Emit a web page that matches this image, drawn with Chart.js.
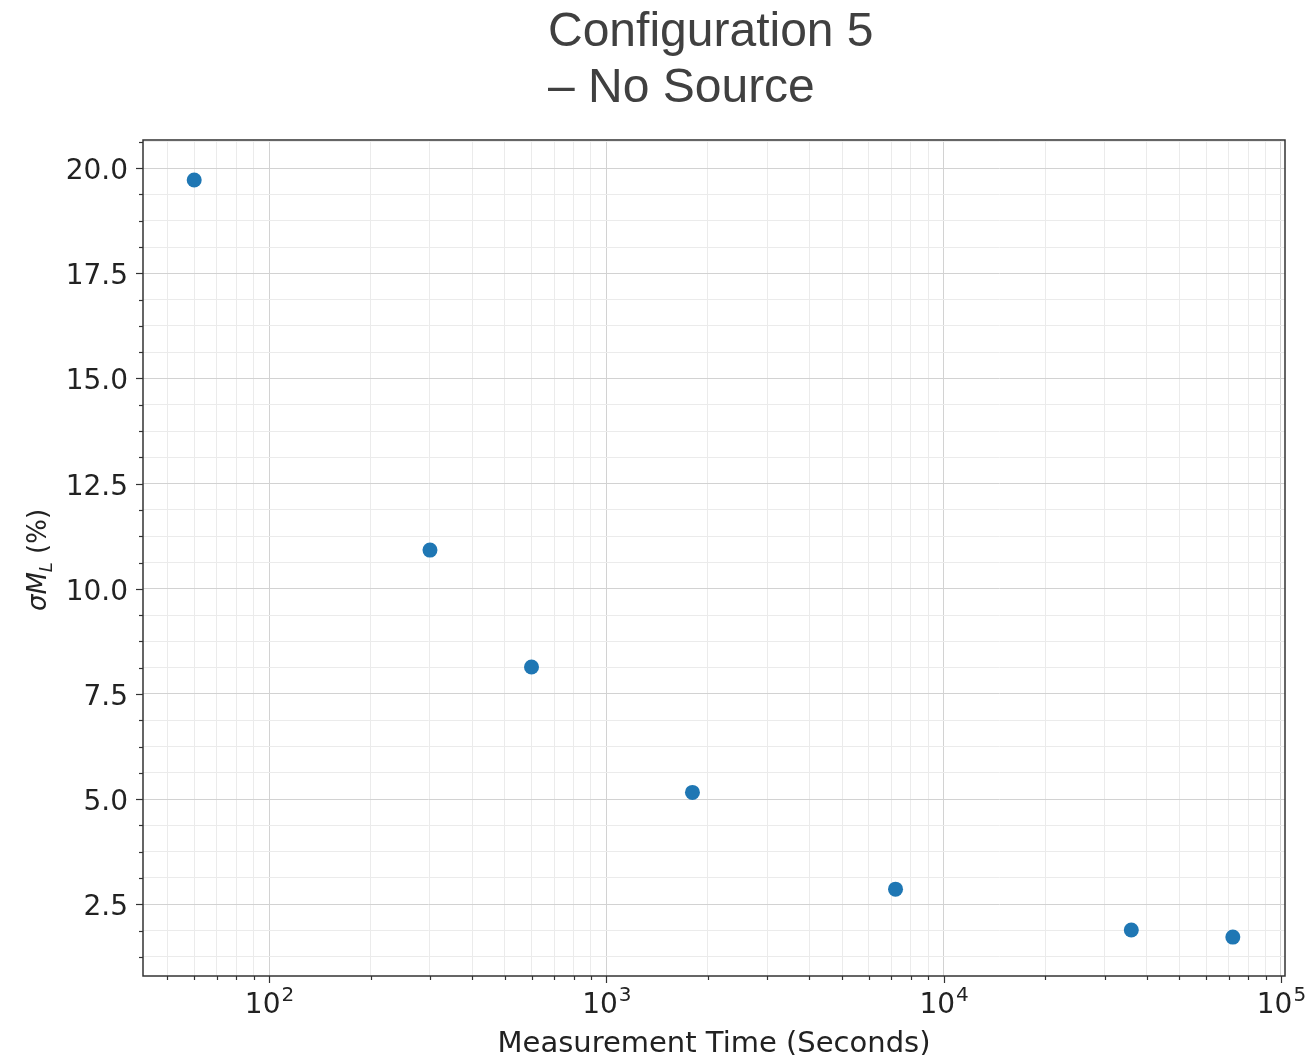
<!DOCTYPE html>
<html>
<head>
<meta charset="utf-8">
<script src="https://cdn.jsdelivr.net/npm/chart.js@4.4.1/dist/chart.umd.min.js"></script>
<style>
  html, body { margin: 0; padding: 0; background: #fff; }
  #wrap { width: 1311px; height: 1055px; }
</style>
</head>
<body>
<div id="wrap"><canvas id="myChart" width="1311" height="1055"></canvas></div>
<script>
// measurement time (s) and sigma M_L (%)
var times = [60, 300, 600, 1800, 7200, 36000, 72000];
var sigma = [19.72, 10.92, 8.14, 5.16, 2.86, 1.89, 1.72];

var titleLines = ['Configuration 5', '\u2013 No Source'];
var xTitle = 'Measurement Time (Seconds)';
var xMajorTicks = [100, 1000, 10000, 100000];
var xTickExponents = ['2', '3', '4', '5'];
var yMajorTicks = [2.5, 5.0, 7.5, 10.0, 12.5, 15.0, 17.5, 20.0];
var yTickLabels = ['2.5', '5.0', '7.5', '10.0', '12.5', '15.0', '17.5', '20.0'];

var xMin = 42.3, xMax = 102800;
var yMin = 0.795, yMax = 20.67;

// minor ticks: 2..9 per decade on x, quarters on y
var xTicks = [];
[10, 100, 1000, 10000].forEach(function (d) {
    for (var k = 1; k <= 9; k++) xTicks.push({ value: d * k, major: k === 1 });
});
xTicks.push({ value: 100000, major: true });
xTicks = xTicks.filter(function (t) { return t.value >= xMin && t.value <= xMax; });

var yTicks = [];
for (var i = 0; i <= 33; i++) {
    var v = i * 0.625;
    if (v >= yMin && v <= yMax) yTicks.push({ value: v, major: i % 4 === 0 });
}

var MAJOR_GRID = '#d2d2d2';
var MINOR_GRID = '#ebebeb';
var TEXT = '#222';

var framePlugin = {
    id: 'frame',
    afterDraw: function (chart) {
        var c = chart.ctx, a = chart.chartArea;
        var xs = chart.scales.x, ys = chart.scales.y;
        c.save();
        // tick marks
        c.strokeStyle = '#333';
        c.lineWidth = 1.2;
        xs.ticks.forEach(function (t) {
            var px = Math.round(xs.getPixelForValue(t.value)) + 0.5;
            var len = t.major ? 7 : 4;
            c.beginPath(); c.moveTo(px, a.bottom); c.lineTo(px, a.bottom + len); c.stroke();
        });
        ys.ticks.forEach(function (t) {
            var py = Math.round(ys.getPixelForValue(t.value)) + 0.5;
            var len = t.major ? 7 : 4;
            c.beginPath(); c.moveTo(a.left, py); c.lineTo(a.left - len, py); c.stroke();
        });
        // spines
        c.lineWidth = 1.5;
        c.strokeRect(a.left, a.top, a.right - a.left, a.bottom - a.top);

        c.fillStyle = TEXT;
        c.textBaseline = 'alphabetic';

        // y tick labels
        c.font = '28px "DejaVu Sans", sans-serif';
        c.textAlign = 'right';
        yMajorTicks.forEach(function (val, k) {
            c.fillText(yTickLabels[k], a.left - 15, ys.getPixelForValue(val) + 11);
        });

        // x tick labels 10^n
        c.textAlign = 'left';
        xMajorTicks.forEach(function (val, k) {
            var px = xs.getPixelForValue(val);
            c.font = '28px "DejaVu Sans", sans-serif';
            var wb = c.measureText('10').width;
            c.font = '20px "DejaVu Sans", sans-serif';
            var we = c.measureText(xTickExponents[k]).width;
            var x0 = px - (wb + we) / 2;
            c.font = '28px "DejaVu Sans", sans-serif';
            c.fillText('10', x0, a.bottom + 37);
            c.font = '20px "DejaVu Sans", sans-serif';
            c.fillText(xTickExponents[k], x0 + wb + 1, a.bottom + 25);
        });

        // x axis title
        c.font = '29px "DejaVu Sans", sans-serif';
        c.textAlign = 'center';
        c.fillText(xTitle, (a.left + a.right) / 2, a.bottom + 76);

        // title
        c.fillStyle = '#404040';
        c.font = '48px "Liberation Sans", Arial, sans-serif';
        c.textAlign = 'left';
        c.fillText(titleLines[0], 548, 46);
        c.fillText(titleLines[1], 548, 102);

        // y axis label: sigma M_L (%)
        c.translate(46, (a.top + a.bottom) / 2 + 2);
        c.rotate(-Math.PI / 2);
        c.fillStyle = TEXT;
        var f1 = 'italic 26px "DejaVu Sans", sans-serif';
        var f2 = 'italic 18px "DejaVu Sans", sans-serif';
        var f3 = '26px "DejaVu Sans", sans-serif';
        c.font = f1; var w1 = c.measureText('\u03c3M').width;
        c.font = f2; var w2 = c.measureText('L').width;
        c.font = f3; var w3 = c.measureText(' (%)').width;
        var x0 = -(w1 + w2 + w3) / 2;
        c.font = f1; c.fillText('\u03c3M', x0, 0);
        c.font = f2; c.fillText('L', x0 + w1, 6);
        c.font = f3; c.fillText(' (%)', x0 + w1 + w2, 0);
        c.restore();
    }
};

var ctx = document.getElementById('myChart').getContext('2d');
var myChart = new Chart(ctx, {
    type: 'scatter',
    data: {
        datasets: [{
            label: 'sigma',
            data: times.map(function (t, i) { return { x: t, y: sigma[i] }; }),
            backgroundColor: '#1f77b4',
            borderColor: '#1f77b4',
            pointRadius: 7.5,
            pointHoverRadius: 7.5,
            borderWidth: 0
        }]
    },
    options: {
        responsive: false,
        animation: false,
        layout: { padding: { top: 140, left: 0, right: 26, bottom: 0 } },
        plugins: { legend: { display: false }, tooltip: { enabled: false } },
        scales: {
            x: {
                type: 'logarithmic',
                min: xMin,
                max: xMax,
                afterBuildTicks: function (scale) { scale.ticks = xTicks.slice(); },
                afterFit: function (scale) {
                    scale.height = 79;
                    scale.paddingLeft = 0;
                    scale.paddingRight = 0;
                },
                grid: {
                    drawTicks: false,
                    color: function (c) { return c.tick && c.tick.major ? MAJOR_GRID : MINOR_GRID; },
                    lineWidth: 1
                },
                border: { display: false },
                ticks: {
                    autoSkip: false,
                    maxRotation: 0,
                    callback: function () { return ''; }
                }
            },
            y: {
                type: 'linear',
                min: yMin,
                max: yMax,
                afterBuildTicks: function (scale) { scale.ticks = yTicks.slice(); },
                afterFit: function (scale) {
                    scale.width = 143;
                    scale.paddingTop = 0;
                    scale.paddingBottom = 0;
                },
                grid: {
                    drawTicks: false,
                    color: function (c) { return c.tick && c.tick.major ? MAJOR_GRID : MINOR_GRID; },
                    lineWidth: 1
                },
                border: { display: false },
                ticks: {
                    autoSkip: false,
                    callback: function () { return ''; }
                }
            }
        }
    },
    plugins: [framePlugin]
});
</script>
</body>
</html>
